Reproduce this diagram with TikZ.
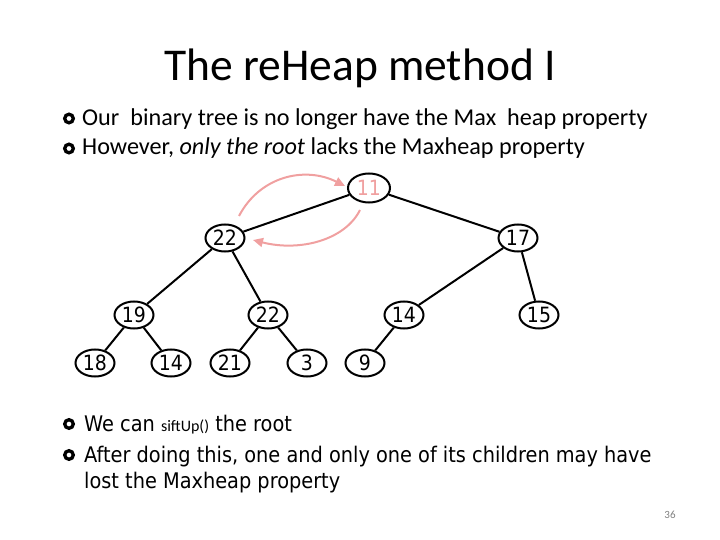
\documentclass[tikz,border=0pt]{standalone}
\usepackage{fontspec}
\setmainfont{Carlito}
\newfontfamily\treefont{DejaVu Sans Condensed}
\usetikzlibrary{shapes.geometric,arrows.meta}
\definecolor{arrowpink}{RGB}{240,160,160}
\tikzset{
  hnode/.style={ellipse,draw=black,line width=2pt,minimum width=39pt,minimum height=27pt,inner sep=0pt,
    font=\treefont\fontsize{21}{21}\selectfont},
  rootnode/.style={hnode,minimum width=42pt,minimum height=29pt,text=arrowpink},
  hedge/.style={line width=2pt,black},
  swaparrow/.style={arrowpink,line width=2pt,-{Triangle[length=10pt,width=9pt]}},
  bulletring/.style={circle,draw=black,line width=3.3pt,minimum size=8.6pt,inner sep=0pt},
  toptext/.style={anchor=base west,inner sep=0pt,font=\fontsize{24.2}{24.2}\selectfont},
  bottext/.style={anchor=base west,inner sep=0pt,font=\treefont\fontsize{21.5}{21.5}\selectfont},
}
\begin{document}
\begin{tikzpicture}[x=1pt,y=-1pt]
\useasboundingbox (0,0) rectangle (720,540);
% title
\node[anchor=base,inner sep=0pt,font=\fontsize{45.5}{45.5}\selectfont] (title) at (360,81) {The reHeap method I};
% top bullets
\node[bulletring] (b1) at (69,118.5) {};
\node[toptext] (t1) at (82,126) {Our\ \ binary tree is no longer have the Max\ \ heap property};
\node[bulletring] (b2) at (69,148.5) {};
\node[toptext] (t2) at (82,155) {However, \textit{only the root} lacks the Maxheap property};
% tree
\node[rootnode] (n11) at (369,188) {11};
\node[hnode] (n22) at (225,238) {22};
\node[hnode] (n17) at (518,238) {17};
\node[hnode] (n19) at (134,315) {19};
\node[hnode] (n22b) at (268,315) {22};
\node[hnode] (n14) at (404,315) {14};
\node[hnode] (n15) at (539,315) {15};
\node[hnode] (n18) at (95,363) {18};
\node[hnode] (n14b) at (171,363) {14};
\node[hnode] (n21) at (230,363) {21};
\node[hnode] (n3) at (307,363) {3};
\node[hnode] (n9) at (365,363) {9};
\draw[hedge] (n11) -- (n22);
\draw[hedge] (n11) -- (n17);
\draw[hedge] (n22) -- (n19);
\draw[hedge] (n22) -- (n22b);
\draw[hedge] (n17) -- (n14);
\draw[hedge] (n17) -- (n15);
\draw[hedge] (n19) -- (n18);
\draw[hedge] (n19) -- (n14b);
\draw[hedge] (n22b) -- (n21);
\draw[hedge] (n22b) -- (n3);
\draw[hedge] (n14) -- (n9);
% swap arrows
\coordinate (a1s) at (239,216);
\coordinate (a1e) at (345,186);
\coordinate (a2s) at (360,210);
\coordinate (a2e) at (253,240);
\draw[swaparrow] (a1s) .. controls (260,176) and (305,166) .. (a1e);
\draw[swaparrow] (a2s) .. controls (345,240) and (300,252) .. (a2e);
% bottom bullets
\node[bulletring] (b3) at (69,424) {};
\node[bottext] (t3) at (84,431) {We can {\rmfamily\fontsize{16}{16}\selectfont siftUp()} the root};
\node[bulletring] (b4) at (69,455) {};
\node[bottext] (t4) at (84,462) {After doing this, one and only one of its children may have};
\node[bottext] (t5) at (84,488) {lost the Maxheap property};
% page number
\node[anchor=base,inner sep=0pt,text=black!50,font=\fontsize{11}{11}\selectfont] (pg) at (670,518) {36};
\end{tikzpicture}
\end{document}
